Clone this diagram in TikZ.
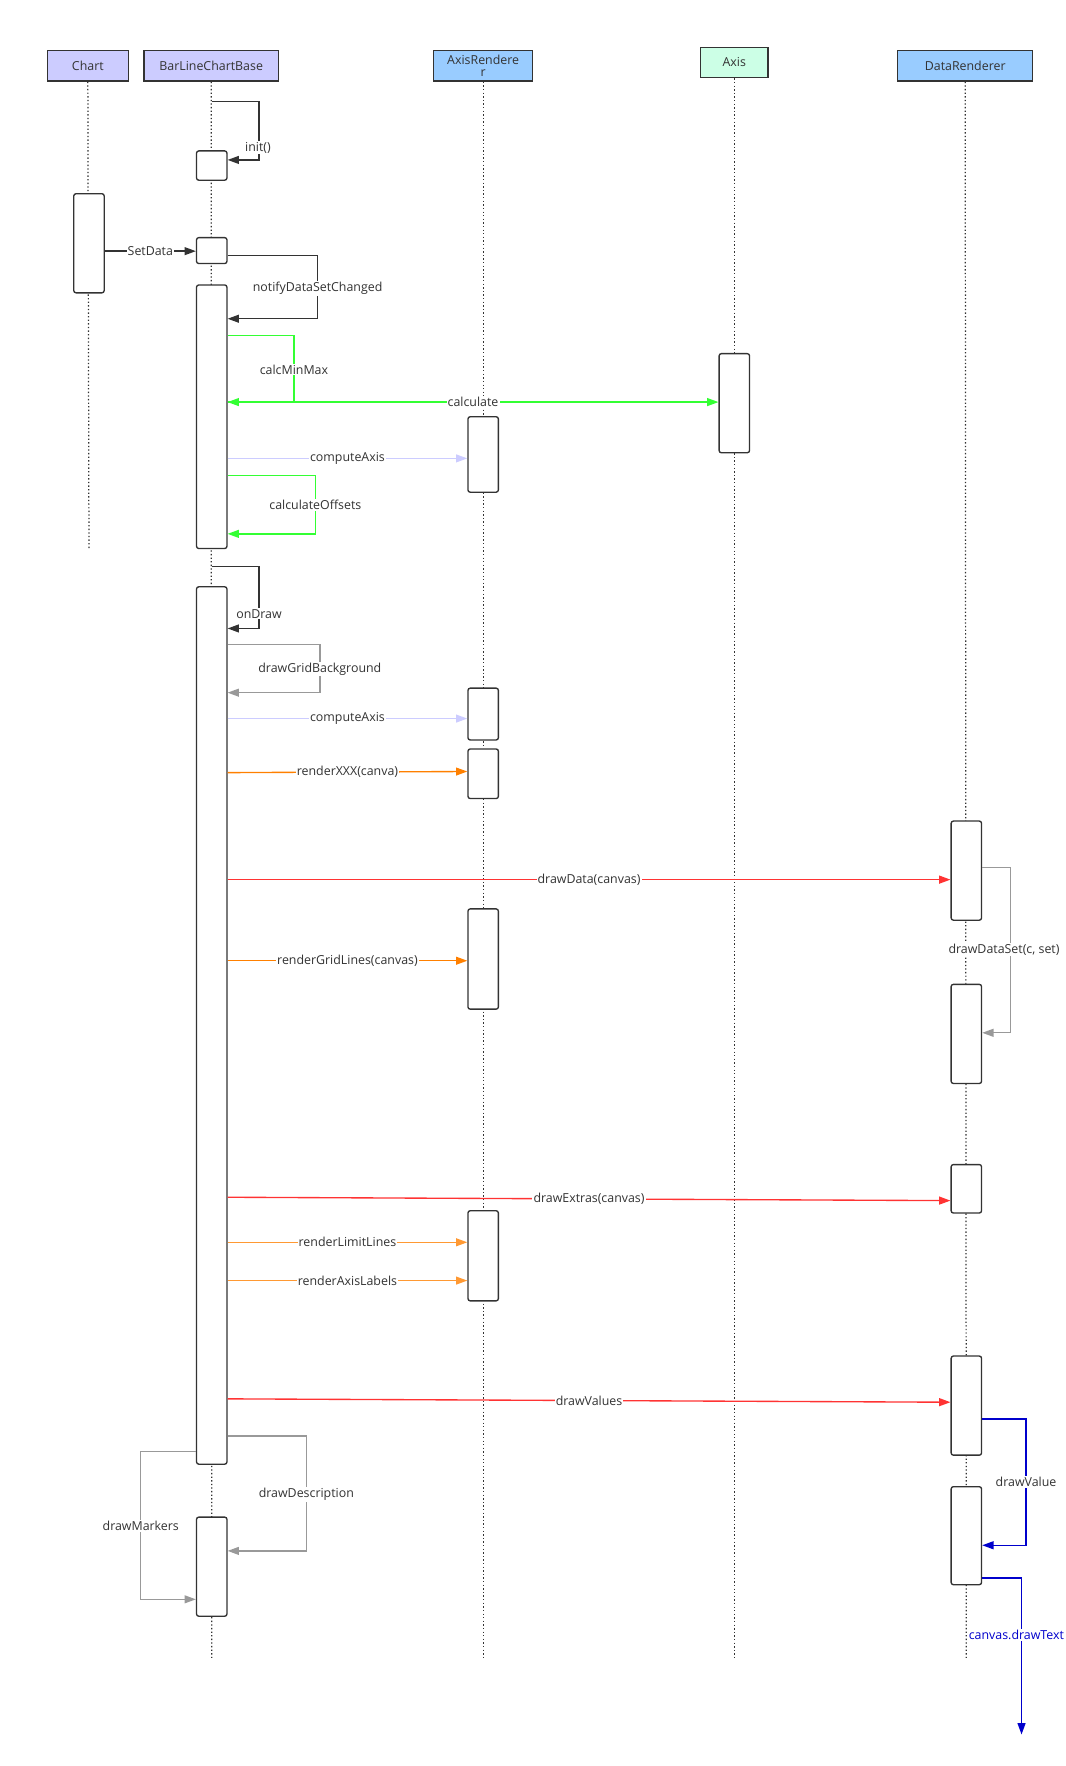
\documentclass[tikz,border=0pt]{standalone}
\usepackage{fontspec}
\setmainfont{Open Sans}
\usetikzlibrary{arrows.meta}
\definecolor{hdrA}{HTML}{CCCCFF}
\definecolor{hdrB}{HTML}{99CCFF}
\definecolor{hdrC}{HTML}{CCFFE6}
\definecolor{dk}{HTML}{333333}
\definecolor{gr}{HTML}{33FF33}
\definecolor{rd}{HTML}{FF3333}
\definecolor{orA}{HTML}{FF8000}
\definecolor{orB}{HTML}{FF9933}
\definecolor{gy}{HTML}{999999}
\definecolor{lv}{HTML}{CCCCFF}
\definecolor{bl}{HTML}{0000CC}
\begin{document}
\begin{tikzpicture}[x=1pt,y=-1pt,
  font=\fontsize{11}{12}\selectfont,
  hdr/.style={draw=dk,line width=1.2pt,minimum height=27pt,inner sep=0pt,align=center,font=\fontsize{11}{10}\selectfont,text=dk},
  act/.style={draw=dk,fill=white,line width=1.2pt,rounded corners=2pt,minimum width=27pt,inner sep=0pt},
  life/.style={dk,line width=1.1pt,dash pattern=on 1.2pt off 2pt},
  msg/.style={line width=1.2pt,-{Triangle[length=10pt,width=7pt]}},
  lbl/.style={fill=white,inner sep=1pt,text=dk}]
\useasboundingbox (0,0) rectangle (946,1568);
% headers
\node[hdr,fill=hdrA,minimum width=72pt] (hChart) at (78,58.5) {Chart};
\node[hdr,fill=hdrA,minimum width=119pt] (hB) at (187.5,58.5) {BarLineChartBase};
\node[hdr,fill=hdrB,minimum width=88pt] (hAR) at (429,58.5) {AxisRendere\\r};
\node[hdr,fill=hdrC,minimum width=60pt] (hAx) at (652,55.5) {Axis};
\node[hdr,fill=hdrB,minimum width=120pt] (hDR) at (857,58.5) {DataRenderer};
% lifelines
\coordinate (eChart) at (79,487);
\coordinate (eB) at (188,1472);
\coordinate (eAR) at (429,1472);
\coordinate (eAx) at (652,1474);
\coordinate (eDR) at (858,1472);
\draw[life] (hChart.south) -- (eChart);
\draw[life] (hB.south) -- (eB);
\draw[life] (hAR.south) -- (eAR);
\draw[life] (hAx.south) -- (eAx);
\draw[life] (hDR.south) -- (eDR);
% activations
\newcommand\actbox[4]{\node[act,minimum height=#4-#3] (#1) at (#2,{(#3+#4)/2}) {};}
\actbox{b1}{188}{134}{160}
\actbox{c1}{79}{172}{260}
\actbox{b2}{188}{211}{234}
\actbox{b3}{188}{253}{487}
\actbox{x1}{652}{314}{402}
\actbox{r1}{429}{370}{437}
\actbox{b4}{188}{521}{1300}
\actbox{r2}{429}{611}{657}
\actbox{r3}{429}{665}{709}
\actbox{r4}{429}{807}{896}
\actbox{r5}{429}{1075}{1155}
\actbox{d1}{858}{729}{817}
\actbox{d2}{858}{874}{962}
\actbox{d3}{858}{1034}{1077}
\actbox{d4}{858}{1204}{1292}
\actbox{d5}{858}{1320}{1407}
\actbox{b5}{188}{1347}{1435}
% messages
\coordinate (s0) at (188,90);
\draw[msg,dk] (s0) -- (230,90) -- (230,142) -- (b1.east|-0,142);
\node[lbl] at (229,131) {init()};
\draw[msg,dk] (c1.east|-0,223) -- node[lbl]{SetData} (b2.west|-0,223);
\draw[msg,dk] (b2.east|-0,227) -- (282,227) -- (282,283) -- (b3.east|-0,283);
\node[lbl] at (282,256) {notifyDataSetChanged};
\draw[msg,gr] (b3.east|-0,298) -- (261,298) -- (261,357) -- (b3.east|-0,357);
\node[lbl] at (261,328) {calcMinMax};
\draw[msg,gr] (b3.east|-0,357) -- node[lbl,pos=0.5]{calculate} (x1.west|-0,357);
\draw[msg,lv] (b3.east|-0,407) -- node[lbl]{computeAxis} (r1.west|-0,407);
\draw[msg,gr] (b3.east|-0,422) -- (280,422) -- (280,474) -- (b3.east|-0,474);
\node[lbl] at (280,448) {calculateOffsets};
\coordinate (s1) at (188,503);
\draw[msg,dk] (s1) -- (230,503) -- (230,558) -- (b4.east|-0,558);
\node[lbl] at (230,545) {onDraw};
\draw[msg,gy] (b4.east|-0,572) -- (284,572) -- (284,615) -- (b4.east|-0,615);
\node[lbl] at (284,594) {drawGridBackground};
\draw[msg,lv] (b4.east|-0,638) -- node[lbl]{computeAxis} (r2.west|-0,638);
\draw[msg,orA] (b4.east|-0,686) -- node[lbl]{renderXXX(canva)} (r3.west|-0,685);
\draw[msg,rd] (b4.east|-0,781) -- node[lbl]{drawData(canvas)} (d1.west|-0,781);
\draw[msg,gy] (d1.east|-0,770) -- (897,770) -- (897,917) -- (d2.east|-0,917);
\node[lbl,anchor=west] at (841,843) {drawDataSet(c, set)};
\draw[msg,orA] (b4.east|-0,853) -- node[lbl]{renderGridLines(canvas)} (r4.west|-0,853);
\draw[msg,rd] (b4.east|-0,1063) -- node[lbl]{drawExtras(canvas)} (d3.west|-0,1066);
\draw[msg,orB] (b4.east|-0,1103) -- node[lbl]{renderLimitLines} (r5.west|-0,1103);
\draw[msg,orB] (b4.east|-0,1137) -- node[lbl]{renderAxisLabels} (r5.west|-0,1137);
\draw[msg,rd] (b4.east|-0,1242) -- node[lbl]{drawValues} (d4.west|-0,1245);
\draw[msg,bl] (d4.east|-0,1260) -- (911,1260) -- (911,1372) -- (d5.east|-0,1372);
\node[lbl] at (911,1316) {drawValue};
\coordinate (tEnd) at (907,1540);
\draw[msg,bl] (d5.east|-0,1401) -- (907,1401) -- (tEnd);
\node[lbl,anchor=west,text=bl] at (859,1452) {canvas.drawText};
\draw[msg,gy] (b4.east|-0,1275) -- (272,1275) -- (272,1377) -- (b5.east|-0,1377);
\node[lbl] at (272,1327) {drawDescription};
\draw[msg,gy] (b4.west|-0,1289) -- (125,1289) -- (125,1420) -- (b5.west|-0,1420);
\node[lbl] at (125,1355) {drawMarkers};
\end{tikzpicture}
\end{document}
